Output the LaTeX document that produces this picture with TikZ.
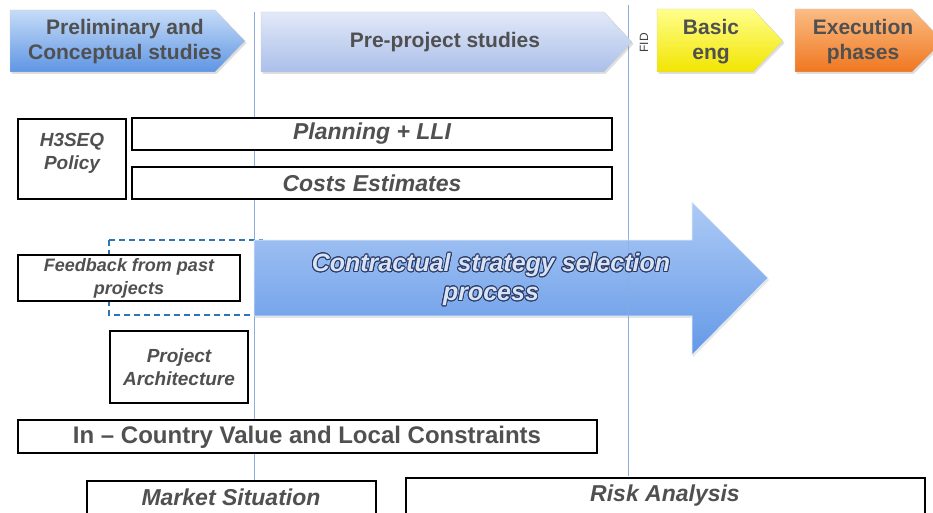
\documentclass[tikz,border=0pt]{standalone}
\usepackage{fontspec}
\setmainfont{Liberation Sans}
\usepackage{contour}
\usetikzlibrary{shadows}

\definecolor{prelimtop}{HTML}{C6DCF8}
\definecolor{prelimbot}{HTML}{5E95E4}
\definecolor{pretop}{HTML}{E2E9F8}
\definecolor{prebot}{HTML}{ABBFEA}
\definecolor{basictop}{HTML}{FFFF8C}
\definecolor{basicbot}{HTML}{F2E400}
\definecolor{exectop}{HTML}{FBBC84}
\definecolor{execbot}{HTML}{EF7720}
\definecolor{arrowtop}{HTML}{ADCAF5}
\definecolor{arrowbot}{HTML}{6499E7}
\definecolor{linecol}{HTML}{8FAADC}
\definecolor{dashcol}{HTML}{2E75B6}
\definecolor{txtgray}{HTML}{505050}
\definecolor{navy}{HTML}{283A68}
\definecolor{palefill}{HTML}{D9E3F3}

\contourlength{0.9pt}

\tikzset{
  phase/.style={draw=white!60!gray, line width=0.3pt,
    drop shadow={opacity=0.25, shadow xshift=1.5pt, shadow yshift=-2pt}},
  phasetext/.style={text=txtgray, align=center,
    font=\bfseries\fontsize{21}{25}\selectfont},
  milestone/.style={draw=linecol, line width=0.8pt},
  infobox/.style={draw=black, line width=2.9pt, fill=white},
  boxtext/.style={text=txtgray, align=center,
    font=\bfseries\itshape\fontsize{23}{26}\selectfont},
  smalltext/.style={boxtext, font=\bfseries\itshape\fontsize{19}{23}\selectfont},
}

\begin{document}
\begin{tikzpicture}[x=1pt,y=-1pt]
\useasboundingbox (0,0) rectangle (933,513);
\clip (0,0) rectangle (933,513);

% gates
\draw[milestone] (254,12) -- (254,480);
\draw[milestone] (628,5) -- (628,476);

% phases
\path[phase, top color=prelimtop, bottom color=prelimbot]
  (10,10) -- (215,10) -- (245,41) -- (215,72) -- (10,72) -- cycle;
\node[phasetext] (prelim) at (125,42) {Preliminary and\\Conceptual studies};

\path[phase, top color=pretop, bottom color=prebot]
  (261,12) -- (604,12) -- (632,42) -- (604,72) -- (261,72) -- cycle;
\node[phasetext] (preproject) at (445,42) {Pre-project studies};

\node[rotate=90, text=txtgray!80!black, font=\fontsize{12}{12}\selectfont] (fid) at (644,43) {FID};

\path[phase, top color=basictop, bottom color=basicbot]
  (657,9) -- (753,9) -- (783,41) -- (753,72) -- (657,72) -- cycle;
\node[phasetext] (basic) at (711,42) {Basic\\eng};

\path[phase, top color=exectop, bottom color=execbot]
  (795,9) -- (912,9) -- (943,41) -- (912,72) -- (795,72) -- cycle;
\node[phasetext] (exec) at (863,42) {Execution\\phases};

% inputs
\draw[infobox] (18,119) rectangle (126,199);
\node[smalltext] (policy) at (72,153) {H3SEQ\\Policy};

\draw[infobox] (132,118) rectangle (612,150);
\node[boxtext] (planning) at (372,134) {Planning + LLI};

\draw[infobox] (132,167) rectangle (612,199);
\node[boxtext] (costs) at (372,183) {Costs Estimates};

\draw[dashcol, line width=1.5pt, dash pattern=on 6pt off 4pt] (109,240) rectangle (262,315);

\draw[infobox] (18,255) rectangle (240,301);
\node[smalltext, font=\bfseries\itshape\fontsize{18}{23}\selectfont] (feedback) at (129,278) {Feedback from past\\projects};

% main process
\path[top color=arrowtop, bottom color=arrowbot, draw=white!70!arrowtop, line width=0.6pt,
  drop shadow={opacity=0.2, shadow xshift=1pt, shadow yshift=-2pt}]
  (254,240) -- (692,240) -- (692,202) -- (768,278) -- (692,355) -- (692,316) -- (254,316) -- cycle;
\draw[milestone, opacity=0.6] (628,240) -- (628,316);
\node[text=palefill, align=center, font=\bfseries\itshape\fontsize{25}{29}\selectfont] (strategy) at (491,280)
  {\contour{navy}{Contractual strategy selection}\\\contour{navy}{process}};

\draw[infobox] (110,331) rectangle (248,403);
\node[smalltext] (architecture) at (179,367) {Project\\Architecture};

\draw[infobox] (18,420) rectangle (597,453);
\node[boxtext, font=\bfseries\fontsize{24}{26}\selectfont] (incountry) at (307,437) {In -- Country Value and Local Constraints};

\draw[infobox] (87,481) rectangle (376,530);
\node[boxtext] (market) at (231,497) {Market Situation};

\draw[infobox] (406,478) rectangle (925,530);
\node[boxtext] (risk) at (665,496) {Risk Analysis};
\end{tikzpicture}
\end{document}
